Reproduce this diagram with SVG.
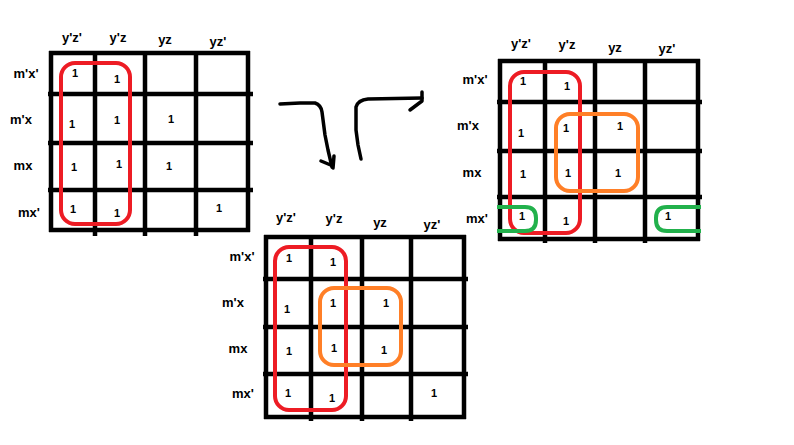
<svg xmlns="http://www.w3.org/2000/svg" width="794" height="445" viewBox="0 0 794 445">
<style>
  .bg { fill: #ffffff; }
  .g line { stroke: #000; stroke-width: 4.5; stroke-linecap: butt; }
  .lbl { font-family: "Liberation Sans", Arial, sans-serif; font-weight: bold; font-size: 13px; fill: #000; text-anchor: middle; }
  .one { font-family: "Liberation Sans", Arial, sans-serif; font-weight: bold; font-size: 11px; fill: #000; text-anchor: middle; }
  .red { fill: none; stroke: #ed1c24; stroke-width: 4; }
  .orange { fill: none; stroke: #ff7f27; stroke-width: 4; }
  .green { fill: none; stroke: #22b14c; stroke-width: 4; }
  .arrow { fill: none; stroke: #000; stroke-width: 3.5; stroke-linecap: round; stroke-linejoin: round; }
</style>
<rect class="bg" x="0" y="0" width="794" height="445"/>

<g id="kmap1">
  <g class="g">
    <line x1="51" y1="51" x2="51" y2="232"/>
    <line x1="95" y1="51" x2="95" y2="236"/>
    <line x1="145" y1="51" x2="145" y2="236"/>
    <line x1="196" y1="51" x2="196" y2="236"/>
    <line x1="248" y1="51" x2="248" y2="232"/>
    <line x1="49" y1="53" x2="250" y2="53"/>
    <line x1="48" y1="94" x2="253" y2="94"/>
    <line x1="48" y1="143" x2="253" y2="143"/>
    <line x1="48" y1="190" x2="253" y2="190"/>
    <line x1="49" y1="230" x2="250" y2="230"/>
  </g>
  <text class="lbl" x="72" y="42">y'z'</text>
  <text class="lbl" x="118" y="42">y'z</text>
  <text class="lbl" x="165" y="44">yz</text>
  <text class="lbl" x="218" y="46">yz'</text>
  <text class="lbl" x="26" y="78">m'x'</text>
  <text class="lbl" x="21" y="124">m'x</text>
  <text class="lbl" x="23" y="170">mx</text>
  <text class="lbl" x="29" y="217">mx'</text>
  <text class="one" x="75" y="77">1</text>
  <text class="one" x="117" y="83">1</text>
  <text class="one" x="72" y="128">1</text>
  <text class="one" x="117" y="124">1</text>
  <text class="one" x="171" y="123">1</text>
  <text class="one" x="74" y="171">1</text>
  <text class="one" x="119" y="168">1</text>
  <text class="one" x="169" y="170">1</text>
  <text class="one" x="73" y="213">1</text>
  <text class="one" x="117" y="217">1</text>
  <text class="one" x="219" y="212">1</text>
  <rect class="red" x="61" y="63" width="69" height="161" rx="14" ry="14"/>
</g>

<g id="kmap2">
  <g class="g">
    <line x1="266" y1="235" x2="266" y2="419"/>
    <line x1="311" y1="235" x2="311" y2="421"/>
    <line x1="362" y1="235" x2="362" y2="421"/>
    <line x1="411" y1="235" x2="411" y2="421"/>
    <line x1="464" y1="235" x2="464" y2="419"/>
    <line x1="264" y1="237" x2="466" y2="237"/>
    <line x1="263" y1="279" x2="468" y2="279"/>
    <line x1="263" y1="327" x2="468" y2="327"/>
    <line x1="263" y1="374" x2="468" y2="374"/>
    <line x1="264" y1="417" x2="466" y2="417"/>
  </g>
  <text class="lbl" x="286" y="222">y'z'</text>
  <text class="lbl" x="334" y="223">y'z</text>
  <text class="lbl" x="380" y="227">yz</text>
  <text class="lbl" x="432" y="229">yz'</text>
  <text class="lbl" x="242" y="261">m'x'</text>
  <text class="lbl" x="233" y="307">m'x</text>
  <text class="lbl" x="238" y="353">mx</text>
  <text class="lbl" x="243" y="398">mx'</text>
  <text class="one" x="289" y="262">1</text>
  <text class="one" x="333" y="266">1</text>
  <text class="one" x="287" y="313">1</text>
  <text class="one" x="333" y="307">1</text>
  <text class="one" x="386" y="307">1</text>
  <text class="one" x="289" y="355">1</text>
  <text class="one" x="334" y="352">1</text>
  <text class="one" x="384" y="354">1</text>
  <text class="one" x="288" y="397">1</text>
  <text class="one" x="332" y="402">1</text>
  <text class="one" x="434" y="397">1</text>
  <rect class="red" x="275" y="247" width="71" height="163" rx="14" ry="14"/>
  <rect class="orange" x="320" y="288" width="81" height="77" rx="14" ry="14"/>
</g>

<g id="kmap3">
  <g class="g">
    <line x1="500" y1="59" x2="500" y2="241"/>
    <line x1="545" y1="59" x2="545" y2="243"/>
    <line x1="595" y1="59" x2="595" y2="243"/>
    <line x1="645" y1="59" x2="645" y2="243"/>
    <line x1="698" y1="59" x2="698" y2="241"/>
    <line x1="498" y1="61" x2="700" y2="61"/>
    <line x1="497" y1="102" x2="702" y2="102"/>
    <line x1="497" y1="151" x2="702" y2="151"/>
    <line x1="497" y1="197" x2="702" y2="197"/>
    <line x1="498" y1="239" x2="700" y2="239"/>
  </g>
  <text class="lbl" x="521" y="48">y'z'</text>
  <text class="lbl" x="567" y="49">y'z</text>
  <text class="lbl" x="615" y="52">yz</text>
  <text class="lbl" x="667" y="53">yz'</text>
  <text class="lbl" x="475" y="84">m'x'</text>
  <text class="lbl" x="468" y="130">m'x</text>
  <text class="lbl" x="472" y="177">mx</text>
  <text class="lbl" x="477" y="223">mx'</text>
  <text class="one" x="523" y="85">1</text>
  <text class="one" x="567" y="90">1</text>
  <text class="one" x="521" y="137">1</text>
  <text class="one" x="566" y="132">1</text>
  <text class="one" x="620" y="130">1</text>
  <text class="one" x="523" y="178">1</text>
  <text class="one" x="568" y="177">1</text>
  <text class="one" x="618" y="177">1</text>
  <text class="one" x="522" y="220">1</text>
  <text class="one" x="566" y="225">1</text>
  <text class="one" x="668" y="220">1</text>
  <rect class="red" x="510" y="72" width="70" height="161" rx="14" ry="14"/>
  <rect class="orange" x="556" y="114" width="82" height="77" rx="14" ry="14"/>
  <path class="green" d="M 497 207 H 525 Q 536 207 536 218 V 220 Q 536 231 525 231 H 497"/>
  <path class="green" d="M 701 207 H 667 Q 656 207 656 218 V 220 Q 656 231 667 231 H 701"/>
</g>

<g id="connectors">
  <path class="arrow" d="M 280 104 L 300 103 L 315 103 Q 321 105 322 112 L 325 135 L 328 150 L 332 167"/>
  <path class="arrow" d="M 321 161 L 333 166 M 334 156 L 333 168"/>
  <path class="arrow" d="M 361 159 L 358 145 L 356 130 L 356 107 Q 358 100 368 99 L 422 98"/>
  <path class="arrow" d="M 422 92 L 422 101 L 410 110"/>
</g>
</svg>
